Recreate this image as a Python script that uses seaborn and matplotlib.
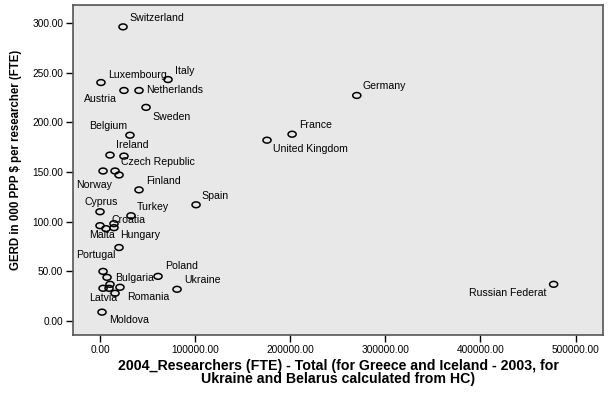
import numpy as np
import pandas as pd
import matplotlib
matplotlib.use('Agg')
import matplotlib.pyplot as plt
from matplotlib.path import Path
import seaborn as sns

# researchers (FTE) and GERD per researcher
countries = ['Switzerland', 'Luxembourg', 'Italy', 'Austria', 'Netherlands', 'Sweden',
             'Belgium', 'Ireland', 'Czech Republic', 'Norway', '', '', 'Finland', 'Spain',
             'Cyprus', 'Turkey', 'Croatia', '', 'Malta', '', 'Hungary', 'Portugal', '',
             'Bulgaria', 'Latvia', '', 'Romania', '', 'Poland', 'Ukraine', 'Moldova',
             'Germany', 'France', 'United Kingdom', 'Russian Federat']
researchers = [24200, 1000, 71500, 25200, 41000, 48400,
               31500, 10500, 25200, 3200, 15800, 20000, 41000, 101000,
               0, 32600, 14700, 14700, 0, 6300, 20000, 3200, 7400,
               10500, 3200, 9500, 21000, 15800, 61000, 81000, 2100,
               270000, 202000, 175600, 477000]
gerd = [296, 240, 243, 232, 232, 215,
        187, 167, 166, 151, 151, 147, 132, 117,
        110, 106, 98, 94, 96, 93, 74, 50, 44,
        37, 33, 33, 34, 28, 45, 32, 9,
        227, 188, 182, 37]

df = pd.DataFrame({'country': countries, 'researchers': researchers, 'gerd': gerd})

# label offsets in pixels (dx, dy down) and alignment
label_pos = {
    'Switzerland': (6, -9, 'left'), 'Luxembourg': (7, -8, 'left'), 'Italy': (7, -9, 'left'),
    'Austria': (-7, 9, 'right'), 'Netherlands': (7, 0, 'left'), 'Sweden': (6, 10, 'left'),
    'Belgium': (-3, -9, 'right'), 'Ireland': (6, -10, 'left'), 'Czech Republic': (-3, 6, 'left'),
    'Norway': (-27, 14, 'left'), 'Finland': (7, -9, 'left'), 'Spain': (5, -9, 'left'),
    'Cyprus': (-16, -10, 'left'), 'Turkey': (6, -9, 'left'), 'Croatia': (-2, -4, 'left'),
    'Malta': (-11, 9, 'left'), 'Hungary': (1, -13, 'left'), 'Portugal': (-27, -16, 'left'),
    'Bulgaria': (5, -6, 'left'), 'Latvia': (-14, 10, 'left'), 'Romania': (7, 10, 'left'),
    'Poland': (7, -10, 'left'), 'Ukraine': (7, -9, 'left'), 'Moldova': (7, 8, 'left'),
    'Germany': (6, -9, 'left'), 'France': (7, -9, 'left'), 'United Kingdom': (6, 9, 'left'),
    'Russian Federat': (-7, 9, 'right'),
}

sns.set_style('ticks')
plt.rcParams['font.family'] = ['Liberation Sans', 'DejaVu Sans']

# slightly flattened circle, like the SPSS marker in the picture
t = np.linspace(0, 2 * np.pi, 40)
ellipse = Path(np.column_stack([np.cos(t), 0.72 * np.sin(t)]), closed=True)

fig = plt.figure(figsize=(6.09, 3.94), dpi=100)
ax = fig.add_axes([73 / 609, 1 - 335 / 394, 530 / 609, 330 / 394])
ax.set_facecolor('#e8e8e8')

sns.scatterplot(data=df, x='researchers', y='gerd', ax=ax, marker=ellipse, s=34,
                facecolors='none', edgecolor='black', linewidth=1.1, zorder=3)

for name, xv, yv in zip(countries, researchers, gerd):
    if name in label_pos:
        dx, dy, ha = label_pos[name]
        ax.annotate(name, (xv, yv), xytext=(dx, -dy), textcoords='offset pixels',
                    ha=ha, va='center', fontsize=7.6, color='black')

ax.set_xlim(-28400, 528900)
ax.set_ylim(-14, 318)
ax.set_xticks([0, 100000, 200000, 300000, 400000, 500000])
ax.set_yticks([0, 50, 100, 150, 200, 250, 300])
ax.xaxis.set_major_formatter(matplotlib.ticker.FormatStrFormatter('%.2f'))
ax.yaxis.set_major_formatter(matplotlib.ticker.FormatStrFormatter('%.2f'))
ax.tick_params(labelsize=7.3, length=5, width=1, color='black', labelcolor='black', pad=2)
for s in ax.spines.values():
    s.set_color('#555555')
    s.set_linewidth(1.2)

ax.set_xlabel('2004_Researchers (FTE) - Total (for Greece and Iceland - 2003, for\n'
              'Ukraine and Belarus calculated from HC)', fontsize=10.2, fontweight='bold',
              color='black', linespacing=0.95, labelpad=3)
ax.set_ylabel('GERD in 000 PPP $ per researcher (FTE)', fontsize=8.3, fontweight='bold',
              color='black')
ax.yaxis.set_label_coords(-0.096, 0.53)

fig.savefig('out.png', dpi=100)
